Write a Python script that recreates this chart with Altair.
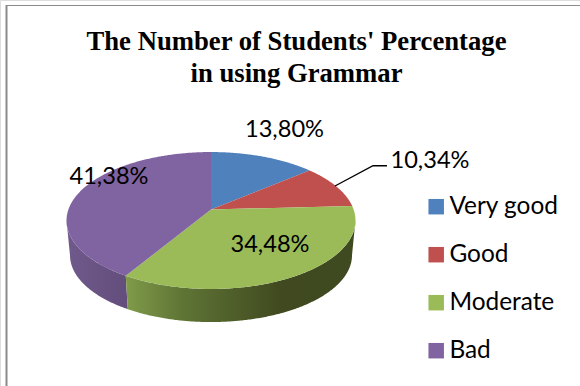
import numpy as np
import pandas as pd
import altair as alt

# Survey shares, in percent
categories = ["Very good", "Good", "Moderate", "Bad"]
shares = [13.80, 10.34, 34.48, 41.38]
colors = ["#4F81BD", "#C0504D", "#9BBB59", "#8064A2"]
title_lines = ["The Number of Students' Percentage", "in using Grammar"]

W, H = 580, 386

# Tilted-disc projection of the pie, in canvas units
CX, CY, A, B, P, DEPTH = 211.0, 209.5, 142.6, 66.7, 0.1606, 35.0
LOWER = 0.976


def project(theta_deg, radius=1.0, lower=False):
    t = np.radians(theta_deg)
    u, v = radius * np.sin(t), radius * np.cos(t)
    w = 1 + P * v
    k = LOWER if lower else 1.0
    return CX + k * A * u / w, CY + (DEPTH if lower else 0) - k * B * v / w


def rim(a, b):
    return np.linspace(a, b, max(int(abs(b - a) * 2), 2))


# Slice boundaries follow from the shares, clockwise from twelve o'clock
edges = np.concatenate([[0], np.cumsum(shares)]) / sum(shares) * 360

# Upper face: one closed outline per slice
rows = []
for name, a, b in zip(categories, edges[:-1], edges[1:]):
    xs, ys = project(rim(a, b))
    outline = [(CX, CY)] + list(zip(xs, ys))
    rows += [{"cat": name, "i": i, "x": p[0], "y": p[1]} for i, p in enumerate(outline)]
top_df = pd.DataFrame(rows)


def wall(a, b):
    xs, ys = project(rim(a, b))
    xl, yl = project(rim(b, a), lower=True)
    x, y = np.r_[xs, xl], np.r_[ys, yl]
    return pd.DataFrame({"i": np.arange(len(x)), "x": x, "y": y})


# The visible side runs between the two silhouette tangents of the disc
tangent = np.degrees(np.arccos(-P))
green_wall = wall(tangent, edges[3])
purple_wall = wall(edges[3], 360 - tangent)

x_enc = alt.X("x:Q", axis=None, scale=alt.Scale(domain=[0, W], nice=False, zero=False))
y_enc = alt.Y("y:Q", axis=None, scale=alt.Scale(domain=[H, 0], nice=False, zero=False))
common = dict(x=x_enc, y=y_enc, order="i:Q")

green_fill = alt.Gradient(
    gradient="linear", x1=0, x2=1, y1=0, y2=0,
    stops=[
        alt.GradientStop(color="#809B49", offset=0),
        alt.GradientStop(color="#5E7435", offset=0.25),
        alt.GradientStop(color="#40491F", offset=0.68),
        alt.GradientStop(color="#3F4A21", offset=1),
    ],
)
purple_fill = alt.Gradient(
    gradient="linear", x1=0, x2=1, y1=0, y2=0,
    stops=[
        alt.GradientStop(color="#6F5A8C", offset=0),
        alt.GradientStop(color="#624D7B", offset=1),
    ],
)

green_side = alt.Chart(green_wall).mark_line(fill=green_fill, strokeWidth=0).encode(**common)
purple_side = alt.Chart(purple_wall).mark_line(fill=purple_fill, strokeWidth=0).encode(**common)

face = alt.Chart(top_df).mark_line(filled=True, strokeWidth=0).encode(
    **common,
    fill=alt.Fill(
        "cat:N",
        scale=alt.Scale(domain=categories, range=colors),
        legend=alt.Legend(
            title=None, orient="none", legendX=424, legendY=194.5,
            symbolType="square", symbolSize=240, symbolStrokeWidth=0, symbolOpacity=1,
            labelFont="Lato", labelFontSize=24.4, labelColor="#000000", labelOffset=1,
            labelLimit=200, rowPadding=23, symbolOffset=0,
        ),
    ),
)

# Data labels: the slice share with a decimal comma
label_x = [284.5, 430, 270, 109]
label_y = [130, 161, 245, 177]
labels_df = pd.DataFrame({
    "x": label_x,
    "y": label_y,
    "text": [f"{s:.2f}%".replace(".", ",") for s in shares],
})
labels = alt.Chart(labels_df).mark_text(
    font="Lato", fontSize=23.6, color="#000000", align="center", baseline="middle"
).encode(x=x_enc, y=y_enc, text="text:N")

# Leader line of the "Good" label
leader_df = pd.DataFrame({"i": [0, 1, 2], "x": [335, 373, 387], "y": [186, 165.7, 165.7]})
leader = alt.Chart(leader_df).mark_line(color="#000000", strokeWidth=1.4).encode(**common)

# Frame of the chart area: only its left and top edges fall on the canvas
frame_left = alt.Chart(pd.DataFrame({"x": [6.5], "y": [5], "y2": [H]})).mark_rule(
    color="#8A8A8A", strokeWidth=2
).encode(x=x_enc, y=y_enc, y2="y2:Q")
frame_top = alt.Chart(pd.DataFrame({"x": [6], "x2": [W], "y": [5.5]})).mark_rule(
    color="#8A8A8A", strokeWidth=1.2
).encode(x=x_enc, x2="x2:Q", y=y_enc)

chart = (
    alt.layer(frame_left, frame_top, purple_side, green_side, face, leader, labels)
    .properties(
        width=W,
        height=H,
        padding=0,
        autosize=alt.AutoSizeParams(type="none"),
        title=alt.TitleParams(
            text=title_lines, font="Liberation Serif", fontSize=26.7, fontWeight="bold",
            color="#000000", anchor="middle", dx=6.5, offset=0, dy=88, lineHeight=32,
        ),
    )
    .configure_view(stroke=None)
    .configure(background="#FFFFFF")
)

chart.save("out.html", embed_options={"renderer": "svg", "actions": False})
